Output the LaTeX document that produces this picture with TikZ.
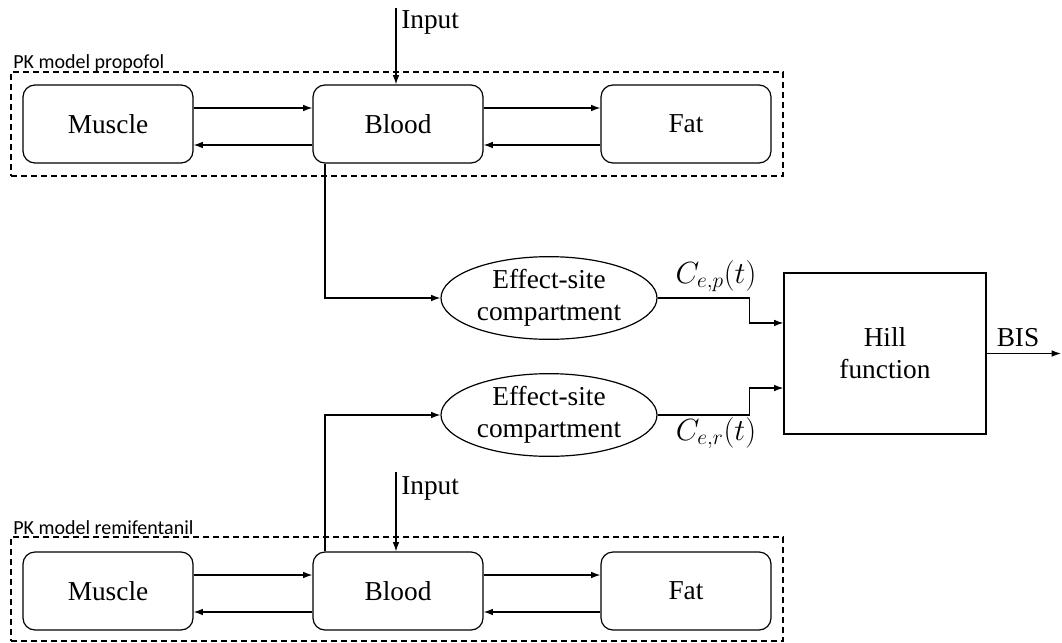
\RequirePackage{fix-cm}
\documentclass[tikz,border=0pt]{standalone}
\usepackage{fontspec}
\setmainfont{Liberation Serif}
\newfontfamily\calfont{Carlito}
\usetikzlibrary{arrows.meta,shapes.geometric}

\begin{document}
\begin{tikzpicture}[
  x=0.75pt, y=-0.75pt,
  font=\fontsize{20.5}{24}\selectfont,
  every node/.style={inner sep=0pt},
  box/.style={draw, line width=0.9pt, rounded corners=9pt, minimum width=127.5pt, minimum height=58.5pt},
  effect/.style={draw, ellipse, line width=0.9pt, align=center, minimum width=162pt, minimum height=62pt},
  hillbox/.style={draw, line width=0.9pt, align=center, minimum width=151.5pt, minimum height=120.75pt},
  group/.style={draw, dash pattern=on 4.5pt off 3pt, line width=0.8pt, minimum width=579pt, minimum height=78pt},
  note/.style={font=\calfont\fontsize{15}{16}\selectfont, anchor=west},
  conc/.style={font=\fontsize{23}{26}\selectfont},
  arrow/.style={-{Latex[length=7pt,width=5pt]}, line width=0.9pt}
]
\useasboundingbox (0,0) rectangle (1062,642);

% propofol
\node[group] (pkp) at (397,124) {};
\node[note] (pkplab) at (13,63) {PK model propofol};
\node[box] (mus1) at (108,124) {Muscle};
\node[box] (bld1) at (398,124) {Blood};
\node[box] (fat1) at (686,124) {Fat};

\coordinate (in1) at (396,8);
\node[anchor=west] (inlab1) at (401,22) {Input};
\draw[arrow] (in1) -- (in1 |- bld1.north);

\draw[arrow] ([yshift=12pt]mus1.east) -- ([yshift=12pt]bld1.west);
\draw[arrow] ([yshift=-15.75pt]bld1.west) -- ([yshift=-15.75pt]mus1.east);
\draw[arrow] ([yshift=12pt]bld1.east) -- ([yshift=12pt]fat1.west);
\draw[arrow] ([yshift=-15.75pt]fat1.west) -- ([yshift=-15.75pt]bld1.east);

% remifentanil
\node[group] (pkr) at (397,589) {};
\node[note] (pkrlab) at (13,528) {PK model remifentanil};
\node[box] (mus2) at (108,591) {Muscle};
\node[box] (bld2) at (398,591) {Blood};
\node[box] (fat2) at (686,591) {Fat};

\coordinate (in2) at (396,472);
\node[anchor=west] (inlab2) at (401,488) {Input};
\draw[arrow] (in2) -- (in2 |- bld2.north);

\draw[arrow] ([yshift=12pt]mus2.east) -- ([yshift=12pt]bld2.west);
\draw[arrow] ([yshift=-15.75pt]bld2.west) -- ([yshift=-15.75pt]mus2.east);
\draw[arrow] ([yshift=12pt]bld2.east) -- ([yshift=12pt]fat2.west);
\draw[arrow] ([yshift=-15.75pt]fat2.west) -- ([yshift=-15.75pt]bld2.east);

% effect sites and Hill function
\node[effect] (eff1) at (549,298) {Effect-site\\compartment};
\node[effect] (eff2) at (549,415) {Effect-site\\compartment};
\node[hillbox] (hill) at (885,353.5) {Hill\\function};

\draw[arrow] ([xshift=-54.75pt]bld1.south) |- (eff1.west);
\draw[arrow] ([xshift=-54.75pt]bld2.north) |- (eff2.west);

\draw[arrow] (eff1.east) -- ++(92,0) |- ([yshift=22.9pt]hill.west);
\draw[arrow] (eff2.east) -- ++(92,0) |- ([yshift=-25.9pt]hill.west);
\node[conc] (cep) at (716,276) {$C_{e,p}(t)$};
\node[conc] (cer) at (716,433) {$C_{e,r}(t)$};

\coordinate (bis) at (1061,353.5);
\draw[arrow] (hill.east) -- (bis);
\node (bislab) at (1018,338) {BIS};

\end{tikzpicture}
\end{document}
